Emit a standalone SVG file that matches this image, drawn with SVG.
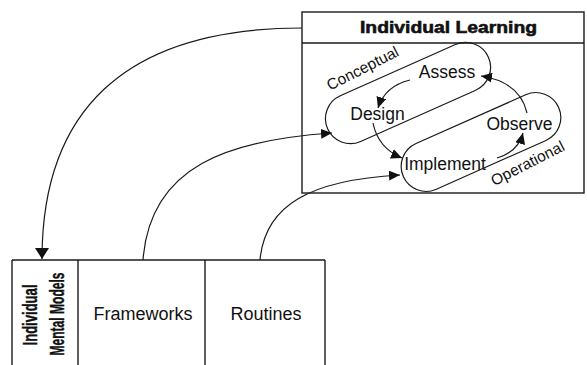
<svg xmlns="http://www.w3.org/2000/svg" width="587" height="365" viewBox="0 0 587 365">
  <style>
    .frame { fill: none; stroke: #1a1a1a; stroke-width: 1.4; }
    .pill { fill: none; stroke: #1a1a1a; stroke-width: 1.2; }
    .wire { fill: none; stroke: #1a1a1a; stroke-width: 1.2; }
    .lbl { font-family: "Liberation Sans", Arial, Helvetica, sans-serif; fill: #111; }
    .step { font-size: 17.5px; text-anchor: middle; }
    .side { font-size: 15.5px; text-anchor: middle; }
    .head { font-size: 17px; font-weight: bold; text-anchor: middle; stroke: #111; stroke-width: 0.6; }
    .col { font-size: 18px; text-anchor: middle; }
    .vert { font-size: 20px; font-weight: bold; text-anchor: middle; stroke: #111; stroke-width: 0.4; }
  </style>
  <defs>
    <marker id="tipBig" viewBox="0 0 11 14" refX="11" refY="7" markerWidth="11" markerHeight="14" markerUnits="userSpaceOnUse" orient="auto">
      <path d="M0,0 L11,7 L0,14 z" fill="#111"/>
    </marker>
    <marker id="tip" viewBox="0 0 11 10" refX="11" refY="5" markerWidth="11" markerHeight="10" markerUnits="userSpaceOnUse" orient="auto">
      <path d="M0,0 L11,5 L0,10 z" fill="#111"/>
    </marker>
  </defs>

  <rect width="587" height="365" fill="#fff"/>

  <!-- Individual Learning panel -->
  <g id="individual-learning">
    <rect class="frame" x="302" y="12" width="282" height="181"/>
    <line class="frame" x1="302" y1="43" x2="584" y2="43"/>
    <text class="lbl head" x="448.5" y="33" textLength="177" lengthAdjust="spacingAndGlyphs">Individual Learning</text>

    <g id="conceptual">
      <rect class="pill" x="-88" y="-25" width="176" height="50" rx="25" transform="translate(408 93) rotate(-24)"/>
      <text class="lbl side" transform="translate(365 73) rotate(-27)">Conceptual</text>
    </g>
    <g id="operational">
      <rect class="pill" x="-85" y="-25" width="170" height="50" rx="25" transform="translate(481 142) rotate(-24)"/>
      <text class="lbl side" transform="translate(530 168) rotate(-27)">Operational</text>
    </g>

    <g id="assess"><text class="lbl step" x="447" y="78">Assess</text></g>
    <g id="design"><text class="lbl step" x="377.5" y="120">Design</text></g>
    <g id="observe"><text class="lbl step" x="519.5" y="130">Observe</text></g>
    <g id="implement"><text class="lbl step" x="445" y="170">Implement</text></g>
  </g>

  <!-- Knowledge columns -->
  <g id="mental-models">
    <line class="frame" x1="12" y1="260" x2="78" y2="260"/>
    <line class="frame" x1="12" y1="260" x2="12" y2="365"/>
    <text class="lbl vert" transform="translate(37 315) rotate(-90)" textLength="61" lengthAdjust="spacingAndGlyphs">Individual</text>
    <text class="lbl vert" transform="translate(64 314) rotate(-90)" textLength="83" lengthAdjust="spacingAndGlyphs">Mental Models</text>
  </g>
  <g id="frameworks">
    <line class="frame" x1="78" y1="260" x2="205" y2="260"/>
    <line class="frame" x1="78" y1="260" x2="78" y2="365"/>
    <text class="lbl col" x="143" y="320">Frameworks</text>
  </g>
  <g id="routines">
    <line class="frame" x1="205" y1="260" x2="325" y2="260"/>
    <line class="frame" x1="205" y1="260" x2="205" y2="365"/>
    <line class="frame" x1="325" y1="260" x2="325" y2="365"/>
    <text class="lbl col" x="266" y="320">Routines</text>
  </g>

  <!-- Connectors -->
  <g id="connectors">
    <path class="wire" d="M302,28 C120,28 42,115 42,259" marker-end="url(#tipBig)"/>
    <path class="wire" d="M143,260 C150,165 230,140 332,133" marker-end="url(#tip)"/>
    <path class="wire" d="M260,260 C265,205 310,180 400,175" marker-end="url(#tip)"/>
    <path class="wire" d="M410,80 Q385,86 378,108" marker-end="url(#tip)"/>
    <path class="wire" d="M373,123 Q378,148 402,158" marker-end="url(#tip)"/>
    <path class="wire" d="M497,158 Q518,152 523,133" marker-end="url(#tip)"/>
    <path class="wire" d="M527,113 Q520,82 481,76" marker-end="url(#tip)"/>
  </g>
</svg>
